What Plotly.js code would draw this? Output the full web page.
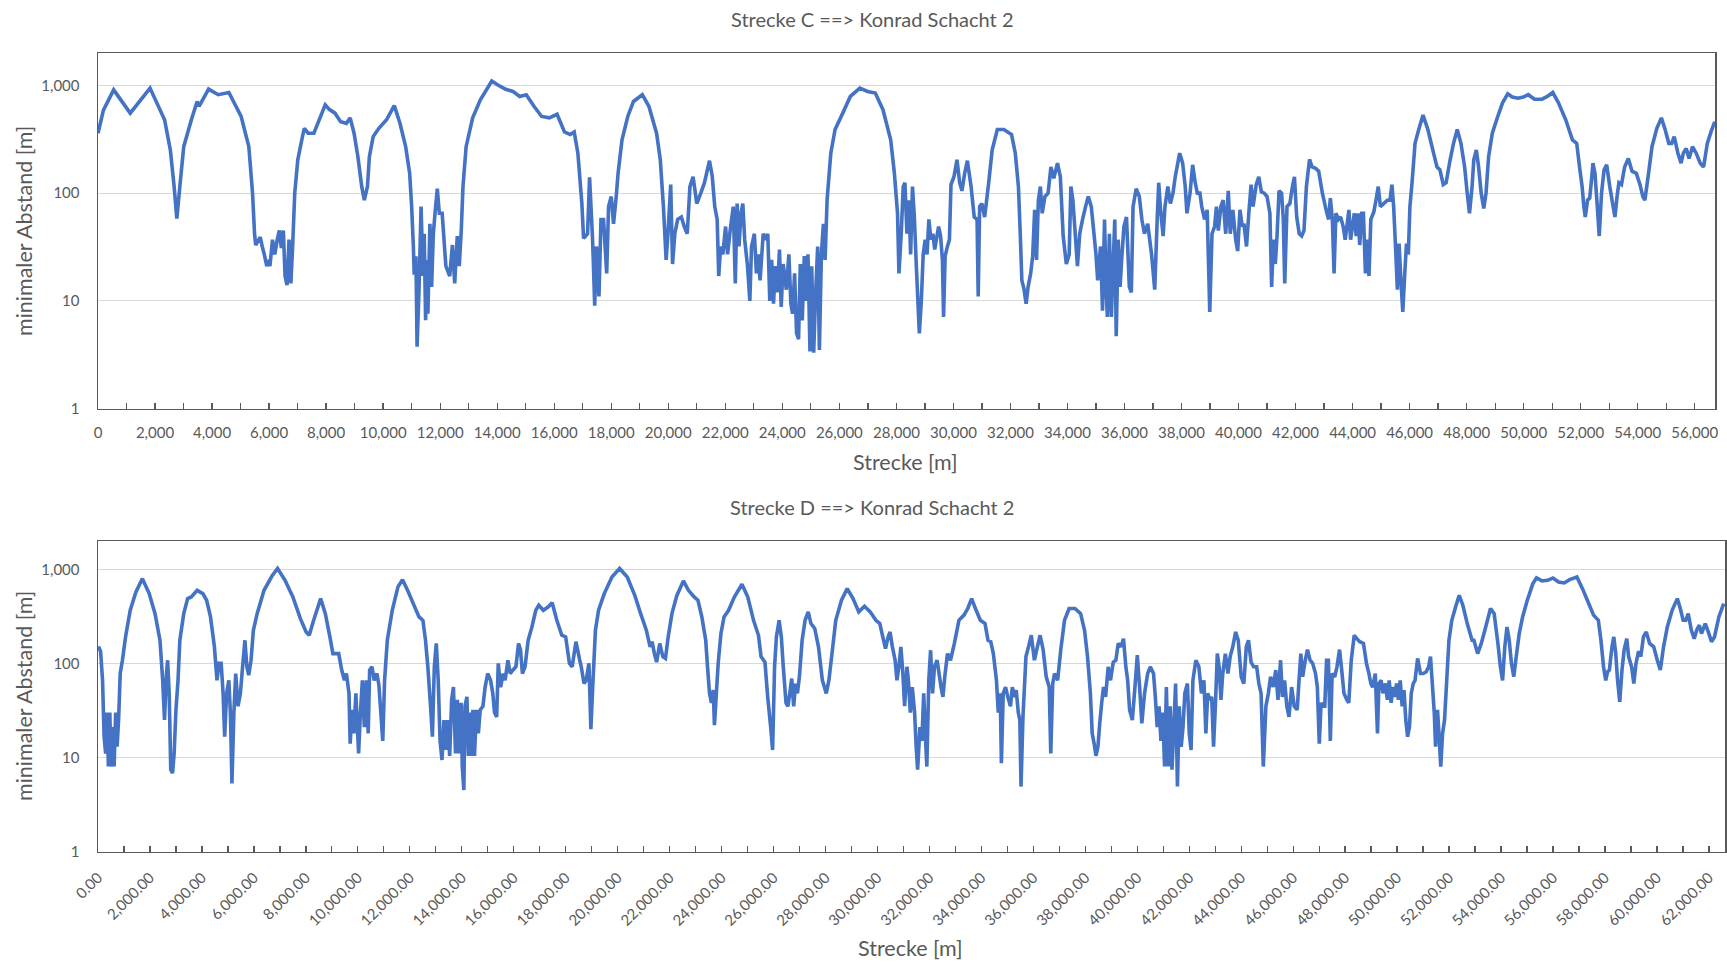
<!DOCTYPE html>
<html>
<head>
<meta charset="utf-8">
<script src="https://cdn.plot.ly/plotly-3.0.1.min.js"></script>
<style>
  html, body { margin: 0; padding: 0; background: #ffffff; }
  #chart { width: 1727px; height: 964px; }
</style>
</head>
<body>
<div id="chart"></div>
<script>
// Strecke C: distance along the route [m] and minimum distance [m]
const cDist = [
  0, 190, 550, 1130, 1825, 2335, 2537, 2670, 2765, 2870, 3007, 3275, 3476, 3544, 3879, 4215, 4590, 5020, 5290, 5420,
  5490, 5530, 5690, 5760, 5825, 5920, 5990, 6030, 6120, 6200, 6295, 6360, 6430, 6500, 6560, 6630, 6700, 6765, 6830, 6900,
  7007, 7170, 7235, 7370, 7570, 7970, 8110, 8310, 8510, 8710, 8845, 8980, 9115, 9250, 9340, 9450, 9517, 9650, 9850, 10120,
  10390, 10590, 10790, 10930, 11000, 11060, 11090, 11150, 11190, 11260, 11330, 11400, 11440, 11490, 11540, 11570, 11640, 11700, 11760, 11830,
  11900, 11970, 12070, 12135, 12200, 12335, 12430, 12510, 12600, 12670, 12740, 12800, 12910, 13140, 13410, 13810, 14010, 14280, 14550, 14790,
  15020, 15290, 15560, 15830, 16100, 16360, 16560, 16700, 16830, 16970, 17030, 17170, 17240, 17340, 17370, 17420, 17480, 17570, 17640, 17730,
  17840, 17906, 18000, 18080, 18175, 18240, 18377, 18580, 18780, 19090, 19320, 19590, 19720, 19830, 19925, 19990, 20086, 20150, 20230, 20330,
  20460, 20560, 20665, 20760, 20870, 21000, 21140, 21270, 21445, 21540, 21630, 21715, 21770, 21835, 21915, 22010, 22080, 22170, 22280, 22350,
  22415, 22480, 22550, 22615, 22680, 22780, 22860, 22920, 23020, 23090, 23150, 23220, 23330, 23420, 23490, 23560, 23625, 23690, 23760, 23830,
  23900, 23960, 24030, 24140, 24230, 24300, 24360, 24430, 24500, 24570, 24630, 24700, 24770, 24830, 24900, 24970, 25030, 25100, 25170, 25240,
  25300, 25370, 25440, 25500, 25570, 25700, 25850, 26120, 26385, 26720, 26990, 27260, 27530, 27800, 27930, 28040, 28090, 28170, 28240, 28300,
  28370, 28440, 28500, 28565, 28630, 28700, 28805, 28875, 28940, 29010, 29075, 29140, 29210, 29280, 29345, 29480, 29550, 29615, 29655, 29710,
  29790, 29860, 29915, 30020, 30125, 30220, 30300, 30395, 30490, 30620, 30730, 30830, 30870, 30920, 31000, 31095, 31230, 31360, 31540, 31770,
  32040, 32170, 32280, 32345, 32400, 32480, 32550, 32620, 32710, 32780, 32850, 32915, 32980, 33050, 33115, 33210, 33320, 33420, 33520, 33650,
  33750, 33850, 33960, 34060, 34120, 34190, 34255, 34350, 34430, 34530, 34635, 34730, 34835, 34930, 35000, 35060, 35160, 35230, 35300, 35360,
  35400, 35470, 35540, 35600, 35660, 35710, 35780, 35845, 35900, 35980, 36070, 36170, 36240, 36300, 36410, 36520, 36610, 36700, 36815, 36950,
  37060, 37150, 37200, 37265, 37355, 37420, 37520, 37610, 37700, 37780, 37870, 37935, 38040, 38130, 38190, 38300, 38390, 38480, 38555, 38645,
  38710, 38810, 38900, 38990, 39070, 39160, 39225, 39290, 39380, 39460, 39550, 39640, 39710, 39800, 39900, 39970, 40050, 40130, 40190, 40280,
  40360, 40440, 40510, 40620, 40710, 40800, 40900, 41000, 41100, 41160, 41225, 41290, 41350, 41420, 41510, 41570, 41620, 41700, 41800, 41890,
  41960, 42040, 42130, 42215, 42295, 42380, 42490, 42580, 42705, 42810, 42940, 43070, 43160, 43220, 43290, 43350, 43415, 43505, 43580, 43670,
  43740, 43800, 43870, 43930, 43995, 44060, 44125, 44190, 44250, 44320, 44380, 44450, 44510, 44575, 44640, 44745, 44820, 44900, 44975, 45090,
  45220, 45310, 45380, 45440, 45505, 45570, 45630, 45700, 45760, 45830, 45890, 45955, 46010, 46085, 46190, 46320, 46470, 46640, 46840, 46960,
  47060, 47180, 47280, 47420, 47540, 47670, 47800, 47930, 48020, 48100, 48190, 48250, 48340, 48420, 48510, 48600, 48680, 48770, 48900, 49090,
  49260, 49440, 49600, 49800, 49990, 50160, 50380, 50640, 50830, 51020, 51220, 51475, 51710, 51860, 51960, 52050, 52110, 52160, 52240, 52315,
  52370, 52430, 52500, 52575, 52650, 52730, 52820, 52910, 53020, 53120, 53200, 53275, 53340, 53430, 53540, 53670, 53800, 53950, 54080, 54180,
  54250, 54380, 54500, 54670, 54830, 54960, 55090, 55190, 55280, 55410, 55520, 55600, 55700, 55800, 55920, 56050, 56190, 56310, 56440, 56570,
  56700
];
const cAbstand = [
  360, 590, 910, 553, 945, 480, 252, 115, 58, 115, 270, 480, 710, 640, 925, 820, 860, 515, 270, 100,
  42, 33, 39, 32, 27.5, 21, 24, 21, 37, 27, 38, 45, 31, 45, 17, 14, 37, 14.5, 34, 100,
  204, 335, 400, 360, 360, 660, 600, 553, 460, 445, 500, 360, 218, 115, 86, 115, 218, 335, 400, 480,
  650, 445, 270, 153, 75, 32, 17.5, 26, 3.75, 13, 75, 17, 42, 6.6, 24, 7.6, 52, 13.5, 42, 70,
  110, 65, 65, 37, 21, 17, 33, 14.5, 40, 21, 45, 115, 270, 500, 735, 1100, 1015, 925, 880, 790,
  820, 640, 515, 500, 540, 370, 350, 370, 235, 80, 38, 42, 140, 40, 24, 9, 32, 11, 57, 57,
  18, 75, 93, 52, 93, 153, 312, 515, 710, 820, 640, 360, 204, 75, 24, 42, 120, 22, 42, 57,
  60, 49, 42, 115, 142, 80, 100, 125, 200, 145, 75, 57, 17, 32, 27, 49, 27, 45, 75, 14.5,
  80, 32, 65, 80, 37, 21, 10, 32, 42, 18, 27, 15.5, 42, 37, 42, 10, 24, 9.4, 21, 12,
  30, 8.8, 22, 12.7, 27, 9.4, 7.6, 18, 5, 4.4, 22, 6.6, 26, 10, 27, 3.4, 21, 3.3, 12, 32,
  3.5, 27, 52, 24, 86, 235, 390, 553, 790, 945, 880, 850, 595, 312, 153, 65, 18, 42, 115, 125,
  42, 86, 27, 115, 60, 21, 5, 10, 27, 37, 27, 57, 37, 42, 30, 49, 40, 24, 7.1, 26,
  32, 37, 120, 142, 204, 125, 105, 153, 200, 115, 60, 57, 11, 75, 80, 60, 120, 252, 390, 390,
  350, 235, 115, 42, 15.5, 12.7, 9.4, 13.5, 18, 26, 70, 24, 86, 115, 65, 93, 100, 175, 137, 190,
  142, 40, 22, 27, 115, 86, 49, 21, 42, 57, 75, 93, 75, 42, 27, 15.5, 32, 8.1, 57, 12,
  7.1, 42, 7.1, 21, 57, 4.7, 37, 13.5, 24, 49, 60, 13.5, 12, 75, 110, 93, 57, 42, 52, 27,
  12.7, 60, 125, 70, 40, 75, 115, 80, 100, 142, 190, 235, 190, 115, 65, 100, 183, 125, 100, 100,
  75, 57, 70, 7.9, 42, 49, 75, 45, 75, 86, 42, 105, 42, 70, 37, 29, 70, 49, 52, 32,
  65, 120, 75, 120, 142, 103, 100, 93, 65, 13.5, 37, 22, 40, 105, 100, 57, 14.5, 75, 80, 115,
  142, 60, 42, 40, 45, 115, 206, 175, 170, 160, 100, 70, 57, 90, 57, 18, 65, 57, 60, 49,
  37, 49, 70, 37, 49, 65, 40, 65, 33, 65, 65, 18, 37, 17, 57, 67, 86, 115, 75, 80,
  86, 86, 120, 75, 32, 12.7, 34, 14.5, 7.9, 18, 34, 27, 75, 125, 290, 390, 530, 390, 235, 175,
  165, 120, 125, 204, 290, 390, 290, 175, 100, 65, 115, 204, 252, 175, 100, 72, 100, 218, 360, 515,
  690, 835, 780, 760, 780, 820, 745, 745, 790, 860, 690, 480, 312, 290, 175, 115, 75, 60, 86, 90,
  125, 190, 153, 80, 40, 100, 165, 183, 115, 80, 60, 93, 125, 120, 175, 210, 160, 153, 120, 93,
  86, 153, 270, 400, 500, 390, 290, 290, 335, 235, 190, 235, 260, 210, 270, 235, 190, 175, 290, 370,
  460
];

// Strecke D: distance along the route [m] and minimum distance [m]
const dDist = [
  0, 30, 100, 175, 235, 295, 350, 400, 455, 500, 575, 620, 680, 735, 795, 855, 940, 1060, 1240, 1460,
  1710, 1970, 2195, 2385, 2490, 2560, 2635, 2680, 2740, 2800, 2870, 2930, 3000, 3080, 3150, 3300, 3450, 3590, 3815, 4035,
  4180, 4330, 4480, 4580, 4655, 4740, 4815, 4875, 4950, 5035, 5095, 5155, 5230, 5300, 5390, 5480, 5565, 5655, 5730, 5800,
  5890, 5980, 6125, 6390, 6690, 6910, 7200, 7500, 7790, 8010, 8130, 8300, 8570, 8750, 8925, 9040, 9265, 9380, 9485, 9560,
  9660, 9705, 9780, 9850, 9925, 9970, 10030, 10100, 10175, 10250, 10325, 10400, 10455, 10545, 10630, 10735, 10810, 10885, 10960, 11030,
  11135, 11325, 11545, 11720, 11915, 12135, 12355, 12505, 12605, 12695, 12800, 12870, 12945, 13020, 13095, 13165, 13240, 13315, 13390, 13460,
  13535, 13610, 13680, 13760, 13830, 13900, 13975, 14020, 14080, 14125, 14200, 14255, 14315, 14375, 14430, 14490, 14565, 14640, 14710, 14815,
  14900, 15000, 15110, 15195, 15260, 15345, 15405, 15495, 15595, 15670, 15775, 15865, 15970, 16085, 16185, 16260, 16335, 16435, 16555, 16700,
  16850, 16965, 17140, 17320, 17480, 17660, 17850, 18000, 18145, 18250, 18395, 18540, 18600, 18705, 18790, 18895, 18970, 19040, 19145, 19265,
  19485, 19780, 20075, 20370, 20660, 20885, 21105, 21250, 21325, 21415, 21500, 21620, 21740, 21840, 21945, 22090, 22280, 22530, 22725, 22945,
  23090, 23240, 23390, 23460, 23535, 23610, 23680, 23725, 23800, 23870, 23975, 24095, 24270, 24490, 24785, 25010, 25230, 25420, 25520, 25670,
  25775, 25890, 25965, 26040, 26110, 26215, 26300, 26375, 26480, 26555, 26625, 26700, 26775, 26850, 26920, 26995, 27100, 27215, 27335, 27440,
  27585, 27730, 27880, 28030, 28130, 28250, 28395, 28615, 28835, 29060, 29280, 29500, 29720, 29940, 30090, 30235, 30310, 30410, 30485, 30575,
  30680, 30750, 30825, 30900, 30970, 31045, 31135, 31190, 31265, 31340, 31430, 31490, 31545, 31635, 31710, 31780, 31840, 31900, 31975, 32045,
  32120, 32195, 32295, 32370, 32445, 32520, 32590, 32695, 32810, 32960, 33135, 33330, 33475, 33625, 33770, 33960, 34140, 34255, 34360, 34460,
  34580, 34650, 34725, 34770, 34840, 34930, 35015, 35120, 35190, 35265, 35340, 35420, 35480, 35525, 35600, 35715, 35815, 35920, 36040, 36155,
  36260, 36375, 36495, 36610, 36670, 36745, 36815, 36935, 37055, 37200, 37375, 37600, 37820, 37970, 38085, 38195, 38265, 38340, 38410, 38485,
  38555, 38630, 38700, 38780, 38880, 38970, 39075, 39175, 39265, 39370, 39470, 39560, 39630, 39705, 39810, 39910, 40000, 40090, 40175, 40280,
  40400, 40500, 40625, 40695, 40765, 40840, 40910, 40980, 41050, 41120, 41190, 41265, 41335, 41405, 41475, 41545, 41615, 41690, 41760, 41830,
  41930, 42000, 42070, 42140, 42255, 42370, 42470, 42565, 42640, 42710, 42795, 42865, 42935, 43005, 43080, 43150, 43220, 43290, 43390, 43490,
  43575, 43675, 43785, 43885, 44000, 44100, 44195, 44280, 44380, 44480, 44595, 44680, 44765, 44850, 44950, 45045, 45130, 45230, 45330, 45415,
  45515, 45585, 45670, 45755, 45840, 45940, 46040, 46155, 46225, 46295, 46365, 46465, 46550, 46650, 46750, 46860, 46930, 47005, 47075, 47145,
  47215, 47285, 47355, 47430, 47500, 47600, 47685, 47785, 47855, 47955, 48065, 48140, 48235, 48350, 48450, 48565, 48705, 48820, 48915, 48990,
  49060, 49160, 49245, 49300, 49385, 49455, 49555, 49625, 49695, 49770, 49840, 49910, 49980, 50050, 50120, 50195, 50265, 50335, 50405, 50475,
  50545, 50620, 50690, 50790, 50900, 51000, 51115, 51215, 51285, 51355, 51430, 51480, 51555, 51610, 51680, 51750, 51825, 51910, 51995, 52105,
  52250, 52390, 52530, 52700, 52885, 52955, 53100, 53240, 53410, 53595, 53735, 53880, 53975, 54060, 54145, 54230, 54315, 54400, 54490, 54585,
  54700, 54830, 55010, 55225, 55365, 55580, 55790, 56000, 56215, 56430, 56640, 56920, 57135, 57350, 57560, 57745, 57845, 57945, 58030, 58100,
  58170, 58270, 58340, 58415, 58485, 58570, 58655, 58740, 58840, 58910, 59025, 59110, 59195, 59295, 59380, 59480, 59590, 59720, 59875, 60015,
  60130, 60255, 60400, 60585, 60785, 60900, 61010, 61110, 61205, 61325, 61435, 61530, 61630, 61715, 61860, 62000, 62100, 62215, 62385, 62570
];
const dAbstand = [
  140, 150, 133, 66, 16.6, 11, 30, 8, 30, 8, 21, 8, 30, 13, 26, 78, 108, 191, 367, 575,
  796, 552, 338, 176, 66, 25, 78, 108, 48, 7.4, 6.8, 11, 32, 66, 176, 338, 488, 508, 598, 552,
  469, 312, 150, 66, 100, 100, 48, 16.6, 48, 66, 30, 5.3, 30, 78, 35, 48, 92, 176, 92, 75,
  108, 225, 338, 598, 843, 1020, 764, 508, 299, 216, 199, 287, 488, 338, 191, 127, 127, 85, 66, 78,
  48, 14, 32, 18, 48, 25, 11, 30, 66, 21, 66, 18, 85, 92, 66, 78, 59, 30, 15, 66,
  176, 367, 650, 776, 598, 432, 312, 287, 176, 92, 35, 16.6, 92, 163, 66, 15, 9.4, 25, 12, 25,
  10.4, 41, 56, 11, 41, 11, 38, 8, 4.5, 35, 44, 10.4, 30, 10.4, 32, 10.4, 32, 18, 32, 35,
  56, 78, 66, 48, 30, 27, 100, 56, 78, 66, 108, 78, 85, 92, 163, 140, 78, 92, 176, 244,
  367, 415, 367, 397, 441, 287, 199, 191, 100, 92, 170, 108, 92, 61, 66, 100, 20, 56, 225, 367,
  552, 829, 1020, 829, 528, 338, 225, 150, 170, 127, 103, 163, 118, 113, 191, 338, 528, 752, 598, 508,
  469, 312, 176, 92, 48, 38, 52, 22, 48, 100, 207, 312, 367, 508, 693, 508, 287, 199, 118, 103,
  44, 21, 12, 92, 191, 287, 191, 92, 38, 35, 48, 69, 35, 61, 48, 72, 176, 287, 353, 265,
  235, 150, 66, 48, 66, 127, 287, 469, 623, 488, 353, 405, 353, 287, 265, 176, 144, 191, 216, 150,
  108, 66, 92, 150, 85, 35, 92, 66, 30, 56, 30, 13, 7.4, 21, 15, 48, 18, 8, 66, 138,
  48, 92, 108, 78, 56, 44, 72, 127, 108, 163, 287, 326, 383, 488, 383, 287, 265, 176, 170, 127,
  66, 30, 48, 8.7, 48, 56, 44, 35, 56, 44, 52, 30, 25, 4.9, 27, 118, 150, 199, 108, 150,
  199, 140, 72, 56, 11, 61, 78, 66, 140, 287, 383, 383, 338, 225, 118, 48, 18, 14, 10.4, 13,
  23, 38, 56, 44, 92, 66, 103, 108, 163, 150, 183, 92, 66, 32, 25, 56, 122, 56, 23, 48,
  78, 92, 78, 44, 21, 35, 15, 30, 8, 56, 8, 35, 7.4, 21, 61, 4.9, 35, 13, 21, 48,
  61, 18, 12, 66, 108, 92, 48, 66, 18, 48, 41, 44, 13, 35, 127, 92, 41, 78, 127, 78,
  118, 150, 216, 176, 72, 61, 150, 176, 103, 92, 92, 61, 48, 8, 35, 48, 72, 56, 85, 41,
  108, 44, 66, 35, 27, 56, 35, 32, 66, 127, 72, 108, 140, 108, 100, 78, 56, 14, 38, 35,
  35, 108, 108, 15, 78, 72, 92, 140, 92, 48, 41, 38, 108, 199, 183, 170, 163, 100, 78, 61,
  56, 78, 18, 61, 66, 48, 61, 41, 66, 38, 56, 44, 61, 41, 66, 35, 52, 25, 16.6, 21,
  48, 61, 66, 113, 78, 78, 81, 92, 118, 61, 30, 13, 32, 18, 8, 18, 25, 66, 176, 287,
  397, 528, 415, 265, 176, 176, 127, 163, 244, 383, 338, 163, 92, 66, 150, 244, 176, 100, 72, 118,
  207, 312, 469, 705, 809, 752, 764, 809, 734, 716, 776, 829, 623, 450, 326, 287, 176, 92, 66, 81,
  85, 150, 191, 127, 66, 39, 85, 140, 183, 118, 92, 61, 100, 135, 118, 191, 216, 163, 150, 108,
  85, 150, 244, 367, 488, 383, 287, 287, 338, 225, 183, 225, 255, 207, 265, 207, 170, 191, 312, 432
];

// Shared log-axis ticks
const yTickVals = [1, 10, 100, 1000];
const yTickText = ['1', '10', '100', '1,000'];

const titleC = 'Strecke C ==> Konrad Schacht 2';
const titleD = 'Strecke D ==> Konrad Schacht 2';
const xTitle = 'Strecke [m]';
const yTitle = 'minimaler Abstand [m]';

const W = 1727, H = 964;
const FONT = 'Lato, "Open Sans", "Noto Sans", sans-serif';
const TEXT = '#595959';
const AXIS = '#595959';
const GRID = '#d9d9d9';
const LINE = '#4472c4';

// pixel helpers for paper coordinates
const px = v => v / W;
const py = v => 1 - v / H;

const lineStyle = { color: LINE, width: 3.6, shape: 'linear', simplify: false };

const traces = [
  { x: cDist, y: cAbstand, type: 'scatter', mode: 'lines', line: lineStyle, xaxis: 'x', yaxis: 'y', hoverinfo: 'x+y' },
  { x: dDist, y: dAbstand, type: 'scatter', mode: 'lines', line: lineStyle, xaxis: 'x2', yaxis: 'y2', hoverinfo: 'x+y' }
];

function xAxis(domain, range, fmt, angle, anchor) {
  return {
    domain: domain, range: range, anchor: anchor,
    tick0: 0, dtick: 2000, tickformat: fmt, tickangle: angle,
    ticks: 'inside', ticklen: 6, tickwidth: 1.3, tickcolor: AXIS,
    minor: { dtick: 1000, ticks: 'inside', ticklen: 6, tickwidth: 1.3, tickcolor: AXIS, showgrid: false },
    showgrid: false, zeroline: false,
    showline: true, linecolor: AXIS, linewidth: 1.5, mirror: true,
    tickfont: { family: FONT, size: 15, color: TEXT },
    ticklabelstandoff: 10,
    fixedrange: true
  };
}

function yAxis(domain, anchor) {
  return {
    domain: domain, anchor: anchor, type: 'log', range: [0, Math.log10(2000)],
    tickmode: 'array', tickvals: yTickVals, ticktext: yTickText,
    ticks: '', showgrid: true, gridcolor: GRID, gridwidth: 1.2, zeroline: false,
    showline: true, linecolor: AXIS, linewidth: 1.5, mirror: true,
    tickfont: { family: FONT, size: 15, color: TEXT },
    ticklabelstandoff: 14,
    fixedrange: true
  };
}

const titleFont = { family: FONT, size: 20, color: TEXT };
const axisTitleFont = { family: FONT, size: 21.5, color: TEXT };
const ann = (text, x, y, font, angle) => ({
  text: text, xref: 'paper', yref: 'paper', x: x, y: y,
  xanchor: 'center', yanchor: 'middle', showarrow: false, textangle: angle || 0, font: font
});

const layout = {
  width: W, height: H,
  margin: { l: 0, r: 0, t: 0, b: 0 },
  paper_bgcolor: '#ffffff', plot_bgcolor: '#ffffff',
  showlegend: false,
  xaxis: xAxis([px(98), px(1715)], [0, 56710], ',d', 0, 'y'),
  yaxis: yAxis([py(408.6), py(53)], 'x'),
  xaxis2: xAxis([px(98), px(1725)], [0, 62620], ',.2f', -45, 'y2'),
  yaxis2: yAxis([py(851.5), py(541)], 'x2'),
  annotations: [
    ann(titleC, px(872), py(18.7), titleFont),
    ann(titleD, px(872), py(506.6), titleFont),
    ann(xTitle, px(905), py(461.5), axisTitleFont),
    ann(xTitle, px(910), py(948), axisTitleFont),
    ann(yTitle, px(24), py(231), axisTitleFont, -90),
    ann(yTitle, px(24), py(696), axisTitleFont, -90)
  ]
};

Plotly.newPlot('chart', traces, layout, { displayModeBar: false, staticPlot: true });
</script>
</body>
</html>
